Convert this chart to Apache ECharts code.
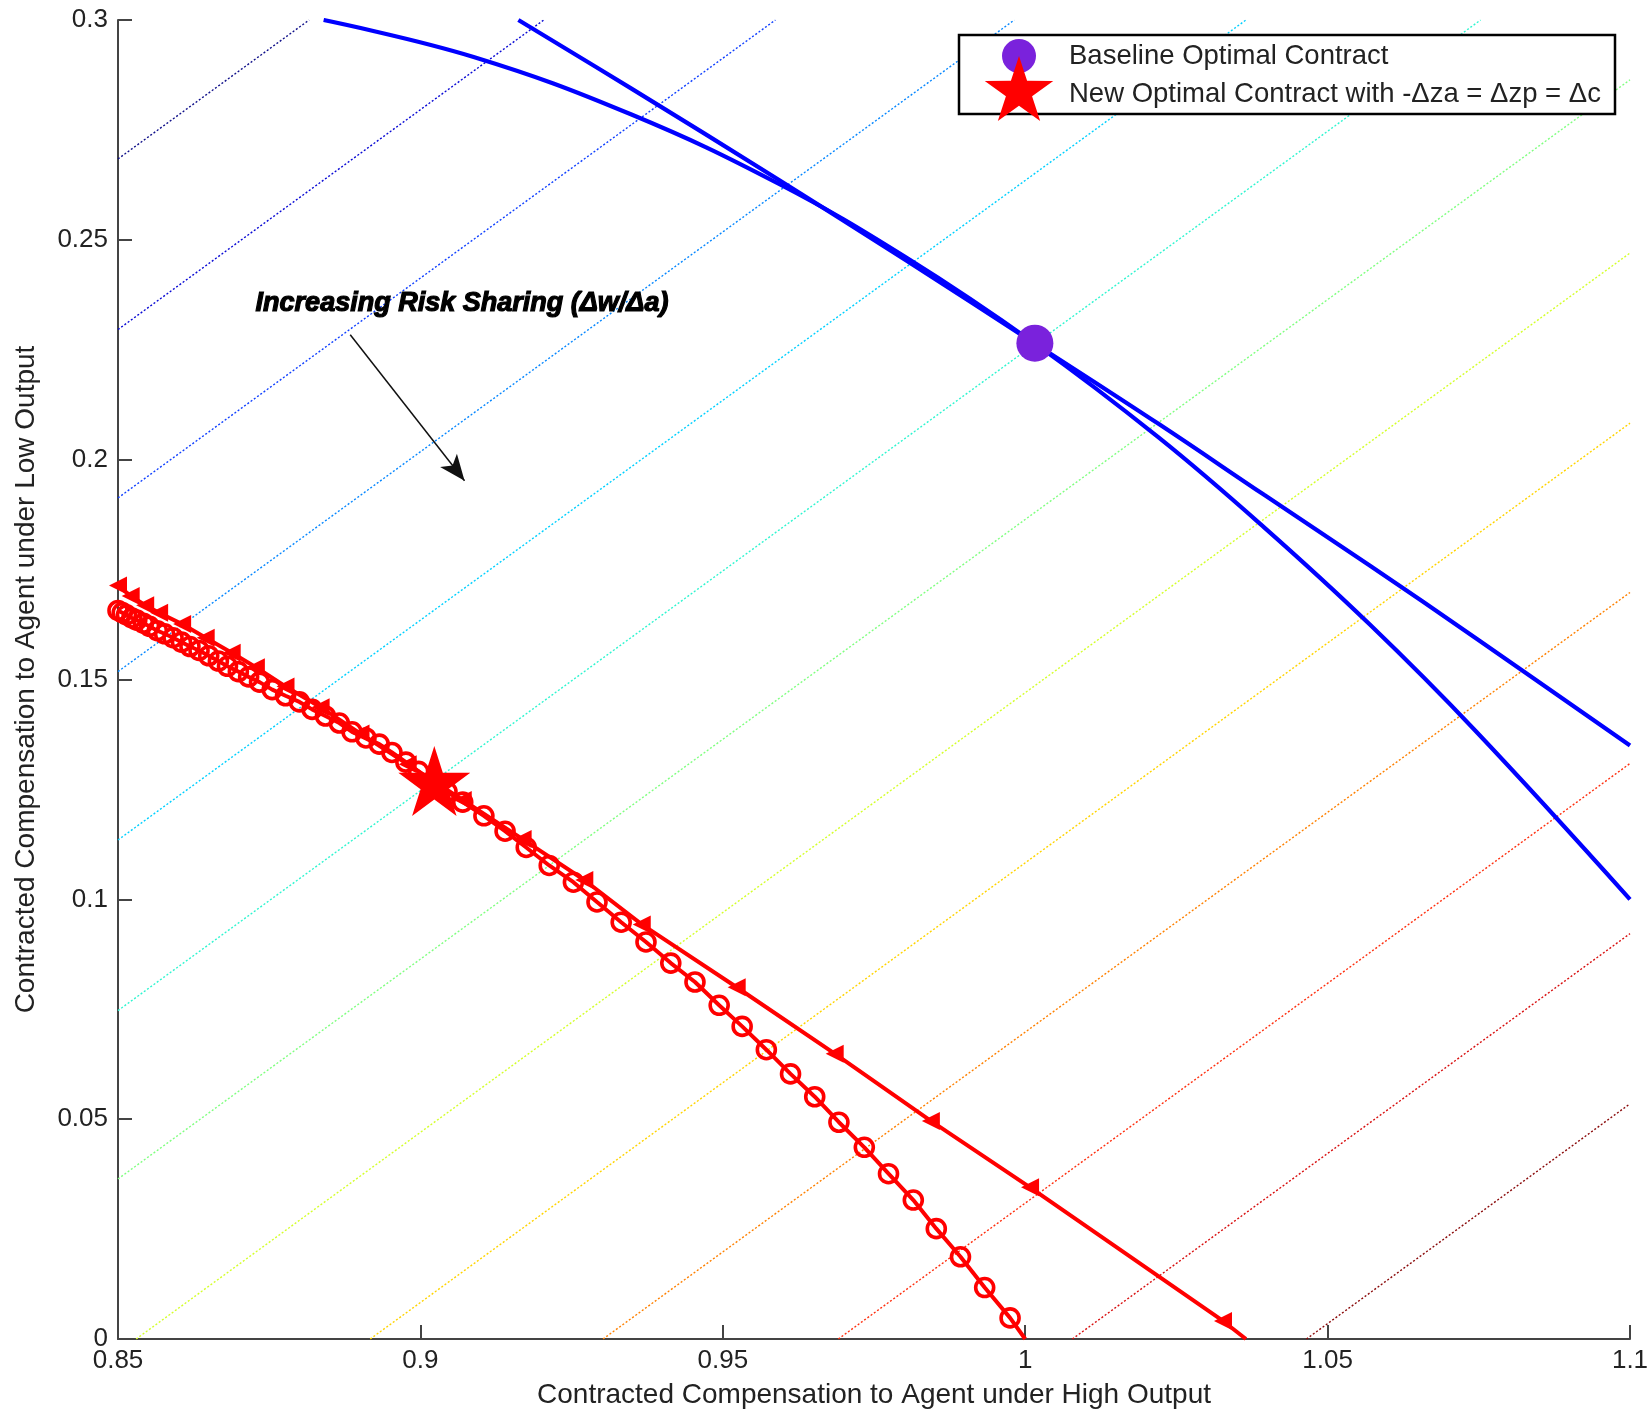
<!DOCTYPE html>
<html><head><meta charset="utf-8">
<script src="https://cdn.jsdelivr.net/npm/echarts/dist/echarts.min.js"></script>
<style>html,body{margin:0;padding:0;background:#fff}#chart{width:1652px;height:1414px}</style>
</head><body><div id="chart"></div>
<script>
// ---------- data ----------
const xTickValues = [0.85, 0.9, 0.95, 1, 1.05, 1.1];
const yTickValues = [0, 0.05, 0.1, 0.15, 0.2, 0.25, 0.3];

// iso lines (dotted, slope 1): start and end points
const isoStart = [[0.85,0.2684],[0.85,0.2296],[0.85,0.1913],[0.85,0.1518],[0.85,0.1135],[0.85,0.0747],[0.85,0.0364],
                  [0.853,0],[0.8917,0],[0.9302,0],[0.9691,0],[1.0078,0],[1.0465,0]];
const isoEnd   = [[0.8816,0.3],[0.9204,0.3],[0.9587,0.3],[0.9982,0.3],[1.0365,0.3],[1.0753,0.3],[1.1,0.2864],
                  [1.1,0.247],[1.1,0.2083],[1.1,0.1698],[1.1,0.1309],[1.1,0.0922],[1.1,0.0535]];

// blue curves
const curveAX = [0.8840, 0.9088, 0.9349, 0.9593, 0.9802, 1.0015, 1.0221, 1.0395, 1.0569, 1.0744, 1.1];
const curveAY = [0.3000, 0.2916, 0.2785, 0.2627, 0.2461, 0.2265, 0.2050, 0.1846, 0.1626, 0.1384, 0.1000];
const curveBX = [0.9162, 0.9349, 0.9593, 0.9802, 1.0015, 1.0221, 1.0395, 1.0569, 1.0744, 1.1];
const curveBY = [0.3000, 0.2844, 0.2636, 0.2454, 0.2265, 0.2081, 0.1920, 0.1760, 0.1595, 0.1350];

// red line with circle markers
const circleX = [0.8500,0.8507,0.8514,0.8523,0.8531,0.8542,0.8552,0.8565,0.8577,0.8591,0.8605,0.8619,0.8634,0.8650,
  0.8666,0.8681,0.8699,0.8716,0.8734,0.8755,0.8777,0.8800,0.8821,0.8843,0.8866,0.8887,0.8910,0.8932,0.8953,0.8976,
  0.8997,0.9020,0.9044,0.9070,0.9105,0.9140,0.9175,0.9213,0.9253,0.9292,0.9332,0.9373,0.9414,0.9454,0.9494,0.9532,
  0.9572,0.9612,0.9652,0.9692,0.9734,0.9774,0.9815,0.9853,0.9893,0.9933,0.9975];
const circleY = [0.1657,0.1652,0.1647,0.1640,0.1635,0.1628,0.1621,0.1611,0.1604,0.1595,0.1585,0.1575,0.1566,0.1554,
  0.1542,0.1530,0.1518,0.1506,0.1494,0.1477,0.1463,0.1449,0.1432,0.1417,0.1401,0.1381,0.1367,0.1353,0.1334,0.1312,
  0.1291,0.1267,0.1245,0.1221,0.1190,0.1155,0.1118,0.1077,0.1039,0.0994,0.0948,0.0903,0.0855,0.0812,0.0759,0.0711,
  0.0658,0.0603,0.0551,0.0493,0.0436,0.0376,0.0316,0.0251,0.0187,0.0117,0.0048];
const circleEnd = [1.0, 0];

// red line with triangle markers
const triX = [0.8500,0.8521,0.8545,0.8568,0.8606,0.8645,0.8688,0.8728,0.8777,0.8835,0.8901,0.8979,0.9070,0.9169,
  0.9271,0.9366,0.9523,0.9685,0.9844,1.0008,1.0327];
const triY = [0.1714,0.1690,0.1669,0.1652,0.1626,0.1595,0.1561,0.1528,0.1484,0.1437,0.1377,0.1307,0.1226,0.1137,
  0.1044,0.0943,0.0800,0.0649,0.0496,0.0345,0.0041];
const triEnd = [1.0365, 0];

// special points
const baselinePoint = [1.0016, 0.2265];
const newOptimalPoint = [0.9023, 0.1269];
const arrowStart = [0.8884, 0.2284];
const arrowEnd = [0.9073, 0.1952];

const legendNames = ['Baseline Optimal Contract', 'New Optimal Contract with -\u0394za = \u0394zp = \u0394c'];
const annotationText = 'Increasing Risk Sharing (\u0394w/\u0394a)';
const xAxisTitle = 'Contracted Compensation to Agent under High Output';
const yAxisTitle = 'Contracted Compensation to Agent under Low Output';

// ---------- styles ----------
const isoColors = ['#10108a','#0a0ad4','#1040ff','#0888ff','#00d0ff','#30f5d0','#80ff80','#d4ff2b',
                   '#ffd400','#ff8000','#ff3010','#d81010','#8a0a0a'];
const FONT = '"Liberation Sans", Arial, Helvetica, sans-serif';
const STAR = 'path://M100,0L122.45,69.1L195.1,69.1L136.3,111.8L158.8,180.9L100,138.2L41.2,180.9L63.7,111.8L4.9,69.1L77.55,69.1Z';

const zip = (xs, ys) => xs.map((x, i) => [x, ys[i]]);

const series = [];
isoStart.forEach((s, i) => {
  series.push({
    type: 'line', silent: true, symbol: 'none', animation: false, z: 1,
    lineStyle: { color: isoColors[i], width: 1.4, type: [2, 2] },
    data: [s, isoEnd[i]]
  });
});
series.push({
  type: 'line', symbol: 'none', smooth: 0.4, animation: false, z: 3,
  lineStyle: { color: '#0000ff', width: 4.2 }, data: zip(curveAX, curveAY)
});
series.push({
  type: 'line', symbol: 'none', smooth: 0.4, animation: false, z: 3,
  lineStyle: { color: '#0000ff', width: 4.2 }, data: zip(curveBX, curveBY)
});
series.push({
  type: 'line', symbol: 'triangle', symbolSize: 18, symbolRotate: 90, animation: false, z: 4,
  itemStyle: { color: '#ff0000', opacity: 1 }, lineStyle: { color: '#ff0000', width: 4 },
  data: zip(triX, triY).concat([{ value: triEnd, symbol: 'none' }])
});
series.push({
  type: 'line', symbol: 'circle', symbolSize: 18, animation: false, z: 5,
  itemStyle: { color: 'rgba(255,255,255,0)', borderColor: '#ff0000', borderWidth: 3.6, opacity: 1 },
  lineStyle: { color: '#ff0000', width: 4 },
  data: zip(circleX, circleY).concat([{ value: circleEnd, symbol: 'none' }])
});
series.push({
  type: 'scatter', name: legendNames[0], symbol: 'circle', symbolSize: 37, animation: false, z: 6,
  itemStyle: { color: '#7a22dc', opacity: 1 }, data: [baselinePoint],
  markLine: {
    silent: true, animation: false, symbol: ['none', 'arrow'], symbolSize: [16, 26],
    lineStyle: { color: '#111', width: 1.5, type: 'solid' }, label: { show: false },
    data: [[{ coord: arrowStart }, { coord: arrowEnd }]]
  }
});
series.push({
  type: 'scatter', name: legendNames[1], symbol: STAR, symbolSize: [72, 70], animation: false, z: 6,
  itemStyle: { color: '#ff0000', opacity: 1 }, data: [newOptimalPoint]
});

// legend glyph star points
function starPoints(cx, cy, R) {
  const pts = [];
  for (let k = 0; k < 10; k++) {
    const r = k % 2 === 0 ? R : R * 0.382;
    const a = (-90 + k * 36) * Math.PI / 180;
    pts.push([cx + r * Math.cos(a), cy + r * Math.sin(a)]);
  }
  return pts;
}

const option = {
  backgroundColor: '#ffffff',
  animation: false,
  grid: { left: 118, right: 22, top: 20, bottom: 74, containLabel: false },
  xAxis: {
    type: 'value', min: xTickValues[0], max: xTickValues[xTickValues.length - 1], interval: 0.05,
    name: xAxisTitle, nameLocation: 'middle', nameGap: 42,
    nameTextStyle: { fontSize: 28, color: '#222', fontFamily: FONT },
    axisLine: { onZero: false, lineStyle: { color: '#444', width: 2 } },
    axisTick: { inside: true, length: 14, lineStyle: { color: '#444', width: 2 } },
    axisLabel: { fontSize: 26, color: '#222', fontFamily: FONT, margin: 9 },
    splitLine: { show: false }
  },
  yAxis: {
    type: 'value', min: yTickValues[0], max: yTickValues[yTickValues.length - 1], interval: 0.05,
    name: yAxisTitle, nameLocation: 'middle', nameGap: 78, nameRotate: 90,
    nameTextStyle: { fontSize: 28, color: '#222', fontFamily: FONT },
    axisLine: { onZero: false, lineStyle: { color: '#444', width: 2 } },
    axisTick: { inside: true, length: 14, lineStyle: { color: '#444', width: 2 } },
    axisLabel: { fontSize: 26, color: '#222', fontFamily: FONT, margin: 10 },
    splitLine: { show: false }
  },
  series: series,
  graphic: [
    { type: 'text', left: 255, top: 289, z: 20,
      style: { text: annotationText, font: 'italic bold 27px ' + FONT, fill: '#000', stroke: '#000', lineWidth: 1.2 } },
    { type: 'rect', z: 30, shape: { x: 959, y: 35, width: 656, height: 79 },
      style: { fill: '#fff', stroke: '#000', lineWidth: 2.5 } },
    { type: 'circle', z: 31, shape: { cx: 1019, cy: 56, r: 17 }, style: { fill: '#7a22dc' } },
    { type: 'polygon', z: 32, shape: { points: starPoints(1019, 92, 36) }, style: { fill: '#ff0000' } },
    { type: 'text', z: 33, style: { x: 1069, y: 56, text: legendNames[0], font: '27.5px ' + FONT, fill: '#222', verticalAlign: 'middle' } },
    { type: 'text', z: 33, style: { x: 1069, y: 94, text: legendNames[1], font: '27.5px ' + FONT, fill: '#222', verticalAlign: 'middle' } }
  ]
};

const chart = echarts.init(document.getElementById('chart'), null, { renderer: 'canvas' });
chart.setOption(option);
</script>
</body></html>
